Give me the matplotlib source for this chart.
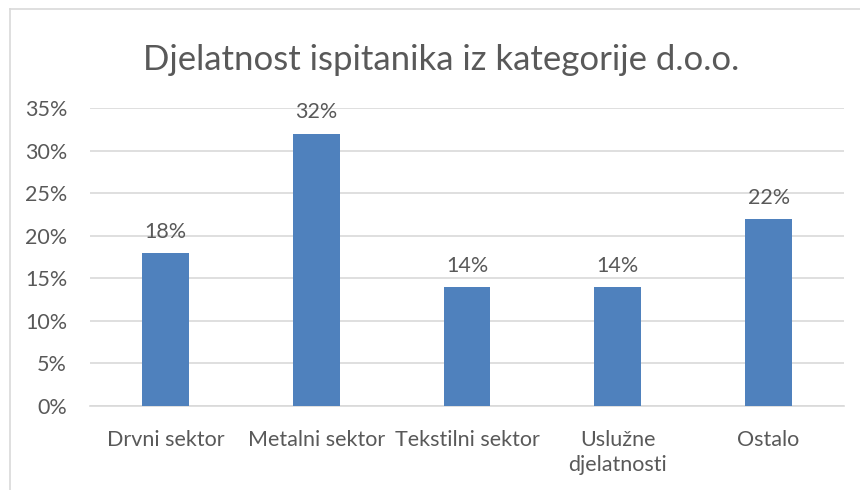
import matplotlib
matplotlib.use("Agg")
import matplotlib.pyplot as plt
from matplotlib.lines import Line2D

categories = ["Drvni sektor", "Metalni sektor", "Tekstilni sektor", "Uslužne\ndjelatnosti", "Ostalo"]
values = [18, 32, 14, 14, 22]
yticks = [0, 5, 10, 15, 20, 25, 30, 35]
title = "Djelatnost ispitanika iz kategorije d.o.o."

plt.rcParams['font.family'] = ['Lato', 'DejaVu Sans']
TXT = '#595959'
GRID = '#D9D9D9'
BAR = '#4F81BD'

W, H = 860, 490
fig = plt.figure(figsize=(W/100, H/100), dpi=100)
fig.patch.set_facecolor('white')

# outer border (left and top visible)
fig.add_artist(Line2D([9.5/W, 9.5/W], [0, 1 - 9.5/H], transform=fig.transFigure, color=GRID, lw=1.2))
fig.add_artist(Line2D([9.5/W, 1], [1 - 9.5/H, 1 - 9.5/H], transform=fig.transFigure, color=GRID, lw=1.2))

left, right = 90, 844
top, bottom = 108, 406
ax = fig.add_axes([left/W, 1 - bottom/H, (right-left)/W, (bottom-top)/H])
x = list(range(len(categories)))
ax.bar(x, values, width=0.31, color=BAR, zorder=3)
ax.set_xlim(-0.5, len(categories) - 0.5)
ax.set_ylim(0, 35)
ax.set_yticks(yticks)
ax.set_yticklabels([f"{v}%" for v in yticks])
ax.set_xticks(x)
ax.set_xticklabels(categories)
ax.yaxis.grid(True, color=GRID, lw=1.2, zorder=0)
ax.set_axisbelow(True)
for s in ['top', 'right', 'left']:
    ax.spines[s].set_visible(False)
ax.spines['bottom'].set_color(GRID)
ax.spines['bottom'].set_linewidth(1.2)
ax.tick_params(axis='both', length=0, labelsize=15.5, colors=TXT)
ax.tick_params(axis='y', pad=16.5)
ax.tick_params(axis='x', pad=17)
for lbl in ax.get_xticklabels():
    lbl.set_linespacing(1.35)

for xi, v in zip(x, values):
    ax.annotate(f"{v}%", (xi, v), xytext=(0, 8), textcoords='offset points',
                ha='center', va='bottom', fontsize=15.5, color=TXT)

fig.text(441/W, 1 - 60/H, title, ha='center', va='center', fontsize=25, color=TXT)

fig.savefig("out.png", dpi=100)
